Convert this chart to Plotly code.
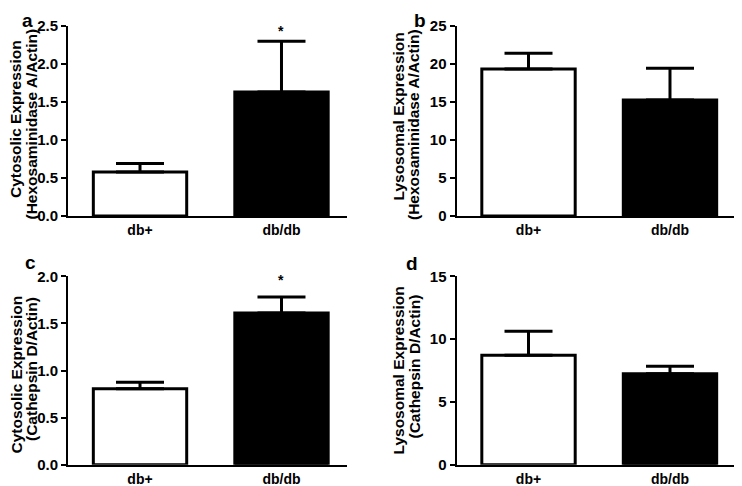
import plotly.graph_objects as go

# page is shifted by the browser's default 8px body margin; figure sized to fit the window
OFF = 8
W, H = 742 - OFF, 486 - OFF

groups = ["db+", "db/db"]
bar_colors = ["white", "black"]

# panel a: cytosolic hexosaminidase A / actin
a_mean = [0.58, 1.63]
a_err = [0.11, 0.67]
# panel b: lysosomal hexosaminidase A / actin
b_mean = [19.35, 15.25]
b_err = [2.05, 4.2]
# panel c: cytosolic cathepsin D / actin
c_mean = [0.807, 1.61]
c_err = [0.068, 0.17]
# panel d: lysosomal cathepsin D / actin
d_mean = [8.71, 7.25]
d_err = [1.91, 0.58]

a_ticks = [0.0, 0.5, 1.0, 1.5, 2.0, 2.5]
b_ticks = [0, 5, 10, 15, 20, 25]
c_ticks = [0.0, 0.5, 1.0, 1.5, 2.0]
d_ticks = [0, 5, 10, 15]

FONT = "Liberation Sans, Arial, Helvetica, sans-serif"

def px_x(x):
    return (x - OFF) / W

def px_y(y):
    return 1 - (y - OFF) / H

def b(s):
    return "<b>" + s + "</b>"

panels = [
    dict(mean=a_mean, err=a_err, ticks=a_ticks, fmt="%.1f", ymax=2.5,
         xd=[68, 347], yd=[26, 216], xr=[-0.509, 1.463]),
    dict(mean=b_mean, err=b_err, ticks=b_ticks, fmt="%d", ymax=25,
         xd=[456.5, 742], yd=[26, 216], xr=[-0.509, 1.509]),
    dict(mean=c_mean, err=c_err, ticks=c_ticks, fmt="%.1f", ymax=2.0,
         xd=[68, 347], yd=[276.3, 464.7], xr=[-0.509, 1.463]),
    dict(mean=d_mean, err=d_err, ticks=d_ticks, fmt="%d", ymax=15,
         xd=[456.5, 742], yd=[276.3, 464.7], xr=[-0.509, 1.509]),
]

fig = go.Figure()
layout = {}
for i, p in enumerate(panels):
    n = "" if i == 0 else str(i + 1)
    fig.add_trace(go.Bar(
        x=[0, 1], y=p["mean"], width=0.66,
        marker=dict(color=bar_colors, line=dict(color="black", width=3)),
        error_y=dict(type="data", symmetric=False, array=p["err"],
                     arrayminus=[0, 0], color="black", thickness=3, width=24),
        xaxis="x" + n, yaxis="y" + n, showlegend=False, hoverinfo="skip",
    ))
    layout["xaxis" + n] = dict(
        domain=[px_x(p["xd"][0]), min(1.0, px_x(p["xd"][1]))], range=p["xr"],
        anchor="y" + n, tickvals=[0, 1], ticktext=[b(g) for g in groups],
        showline=True, linecolor="black", linewidth=2, ticks="",
        showgrid=False, zeroline=False, automargin=False,
        tickfont=dict(family=FONT, size=14, color="black"),
    )
    layout["yaxis" + n] = dict(
        domain=[px_y(p["yd"][1]), px_y(p["yd"][0])], range=[0, p["ymax"]],
        anchor="x" + n, tickvals=p["ticks"],
        ticktext=[b(p["fmt"] % t) for t in p["ticks"]],
        showline=True, linecolor="black", linewidth=2,
        ticks="outside", ticklen=5, tickwidth=2, tickcolor="black",
        showgrid=False, zeroline=False, automargin=False,
        tickfont=dict(family=FONT, size=15, color="black"),
    )

annotations = []
titles = [
    ("Cytosolic Expression", 16, 119), ("(Hexosaminidase A/Actin)", 31.5, 124),
    ("Lysosomal Expression", 397.5, 117), ("(Hexosaminidase A/Actin)", 414, 124),
    ("Cytosolic Expression", 16, 374.5), ("(Cathepsin D/Actin)", 31.5, 369.5),
    ("Lysosomal Expression", 397.5, 371), ("(Cathepsin D/Actin)", 414, 366.5),
]
for txt, x, y in titles:
    annotations.append(dict(
        text=b(txt), x=px_x(x), y=px_y(y), xref="paper", yref="paper",
        xanchor="center", yanchor="middle", textangle=-90, showarrow=False,
        font=dict(family=FONT, size=15.5, color="black"),
    ))

# panel letters: a, b pinned to the top edge; c, d at their reference heights
letters = [("a", 27, OFF, "top"), ("b", 420, OFF, "top"),
           ("c", 30.5, 262, "middle"), ("d", 412.5, 264, "middle")]
for txt, x, y, ya in letters:
    annotations.append(dict(
        text=b(txt), x=px_x(x), y=px_y(y), xref="paper", yref="paper",
        xanchor="center", yanchor=ya, showarrow=False,
        font=dict(family=FONT, size=19, color="black"),
    ))

# significance stars
annotations.append(dict(text=b("*"), x=1, y=2.43, xref="x", yref="y",
                        xanchor="center", yanchor="middle", showarrow=False,
                        font=dict(family=FONT, size=14, color="black")))
annotations.append(dict(text=b("*"), x=1, y=1.966, xref="x3", yref="y3",
                        xanchor="center", yanchor="middle", showarrow=False,
                        font=dict(family=FONT, size=14, color="black")))

fig.update_layout(
    width=W, height=H, margin=dict(l=0, r=0, t=0, b=0, autoexpand=False),
    paper_bgcolor="white", plot_bgcolor="white",
    annotations=annotations, **layout,
)

fig.write_html("out.html")
